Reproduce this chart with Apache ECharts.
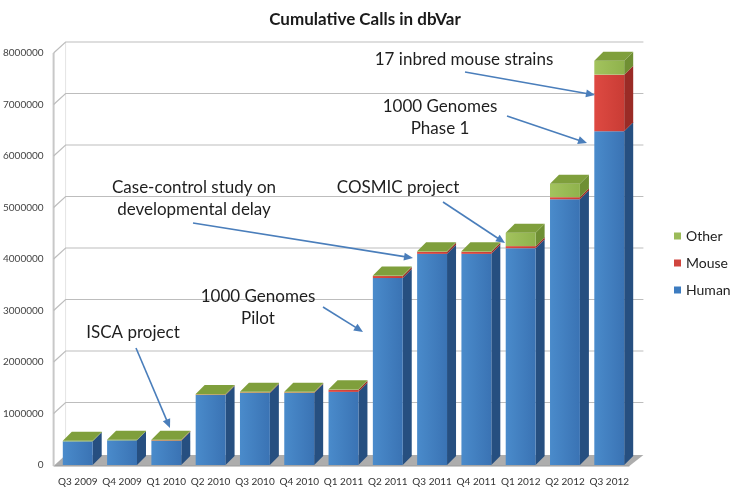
<!DOCTYPE html>
<html>
<head>
<meta charset="utf-8">
<script src="https://cdn.jsdelivr.net/npm/echarts@6/dist/echarts.min.js"></script>
<style>html,body{margin:0;padding:0;background:#fff}#chart{width:730px;height:488px}</style>
</head>
<body>
<div id="chart"></div>
<script>
var categories = ['Q3 2009','Q4 2009','Q1 2010','Q2 2010','Q3 2010','Q4 2010','Q1 2011','Q2 2011','Q3 2011','Q4 2011','Q1 2012','Q2 2012','Q3 2012'];
var human = [460000, 480000, 470000, 1360000, 1400000, 1400000, 1420000, 3630000, 4100000, 4100000, 4210000, 5160000, 6480000];
var mouse = [0, 0, 10000, 10000, 10000, 10000, 40000, 40000, 40000, 40000, 40000, 40000, 1100000];
var other = [10000, 10000, 10000, 10000, 10000, 10000, 10000, 10000, 10000, 10000, 260000, 260000, 270000];
var yTicks = [0, 1000000, 2000000, 3000000, 4000000, 5000000, 6000000, 7000000, 8000000];

var seriesDefs = [
  {name:'Human', vals:human, front:['#4a8bcb','#3a73b4'], side:'#264f80', top:'#5b95d0', legend:'#3d7cc0'},
  {name:'Mouse', vals:mouse, front:['#de4a42','#c93c35'], side:'#9a2b26', top:'#e0625b', legend:'#d0453e'},
  {name:'Other', vals:other, front:['#a3c35e','#8fb24c'], side:'#6f8f33', top:'#7f9f3c', legend:'#9bbb59'}
];

var DX = 9, DY = 9, WALL_DX = 12, WALL_DY = 11;

function topIndex(i){
  for (var s = seriesDefs.length - 1; s >= 0; s--) { if (seriesDefs[s].vals[i] > 0) return s; }
  return 0;
}

var series = [];
series.push({
  type:'custom', name:'wall', z:1, silent:true, legendHoverLink:false,
  data: yTicks.map(function(v){ return [0, v]; }),
  renderItem: function(params, api){
    var v = api.value(1);
    var p = api.coord([0, v]);
    var bw = api.size([1, 0])[0];
    var left = p[0] - bw/2 - 2;
    var right = p[0] - bw/2 + categories.length * bw + WALL_DX;
    var y = p[1];
    var children = [];
    if (v === 0) {
      children.push({type:'polygon', shape:{points:[[left, y+1],[right-WALL_DX-2, y+1],[right, y+1-WALL_DY],[left+WALL_DX, y+1-WALL_DY]]}, style:{fill:'#adadad'}});
      children.push({type:'line', shape:{x1:left, y1:y+1, x2:right-WALL_DX-2, y2:y+1}, style:{stroke:'#9a9a9a', lineWidth:1}});
      var top = api.coord([0, yTicks[yTicks.length-1]])[1];
      children.push({type:'line', shape:{x1:left, y1:y+1, x2:left, y2:top}, style:{stroke:'#c8c8c8', lineWidth:2}});
      children.push({type:'line', shape:{x1:left+WALL_DX, y1:y+1-WALL_DY, x2:left+WALL_DX, y2:top-WALL_DY}, style:{stroke:'#e4e4e4', lineWidth:1}});
    } else {
      children.push({type:'polyline', shape:{points:[[left, y],[left+WALL_DX, y-WALL_DY],[right, y-WALL_DY]]}, style:{stroke:'#bdbdbd', lineWidth:1.2, fill:null}});
    }
    return {type:'group', children:children};
  }
});

seriesDefs.forEach(function(def, sIdx){
  series.push({
    type:'custom', name:def.name, z:2,
    itemStyle:{color:def.legend},
    data: categories.map(function(c, i){
      var base = 0;
      for (var k = 0; k < sIdx; k++) base += seriesDefs[k].vals[i];
      return [i, base, def.vals[i]];
    }),
    renderItem: function(params, api){
      var i = api.value(0), base = api.value(1), val = api.value(2);
      if (!(val > 0)) return null;
      var bw = api.size([1, 0])[0];
      var w = bw * 0.675;
      var pb = api.coord([i, base]);
      var pt = api.coord([i, base + val]);
      var x0 = pb[0] - w/2, x1 = pb[0] + w/2;
      var yb = pb[1], yt = pt[1];
      var children = [];
      children.push({type:'polygon', shape:{points:[[x1, yb],[x1+DX, yb-DY],[x1+DX, yt-DY],[x1, yt]]}, style:{fill:def.side}});
      children.push({type:'rect', shape:{x:x0, y:yt, width:w, height:Math.max(yb-yt, 0.6)},
        style:{fill:new echarts.graphic.LinearGradient(0,0,1,0,[{offset:0,color:def.front[0]},{offset:1,color:def.front[1]}])}});
      if (topIndex(i) === sIdx) {
        children.push({type:'polygon', shape:{points:[[x0, yt],[x1, yt],[x1+DX, yt-DY],[x0+DX, yt-DY]]}, style:{fill:def.top}});
      }
      return {type:'group', children:children};
    }
  });
});

var annotations = [
  {lines:['17 inbred mouse strains'], x:464, y:60, from:[465,72], to:[595,95]},
  {lines:['1000 Genomes','Phase 1'], x:440, y:107, from:[507,116], to:[587,143]},
  {lines:['COSMIC project'], x:398, y:188, from:[443,202], to:[505,243]},
  {lines:['Case-control study on','developmental delay'], x:194, y:188, from:[193,223], to:[413,258]},
  {lines:['1000 Genomes','Pilot'], x:258, y:297, from:[323,307], to:[363,332]},
  {lines:['ISCA project'], x:133, y:333, from:[136,348], to:[170,428]}
];

var graphics = [];
annotations.forEach(function(a){
  a.lines.forEach(function(t, k){
    graphics.push({type:'text', x:a.x, y:a.y + k*21.5, z:10,
      style:{text:t, align:'center', verticalAlign:'middle', fontSize:17, fontFamily:'Lato', fill:'#1e1e1e'}});
  });
  var sx=a.from[0], sy=a.from[1], tx=a.to[0], ty=a.to[1];
  var dx=tx-sx, dy=ty-sy, len=Math.sqrt(dx*dx+dy*dy);
  var ux=dx/len, uy=dy/len, nx=-uy, ny=ux, L=9, W=4;
  graphics.push({type:'line', z:10, shape:{x1:sx, y1:sy, x2:tx-ux*L*0.8, y2:ty-uy*L*0.8}, style:{stroke:'#4a7ebb', lineWidth:1.6}});
  graphics.push({type:'polygon', z:10, shape:{points:[[tx,ty],[tx-ux*L+nx*W, ty-uy*L+ny*W],[tx-ux*L-nx*W, ty-uy*L-ny*W]]}, style:{fill:'#4a7ebb'}});
});

var chart = echarts.init(document.getElementById('chart'), null, {renderer:'canvas'});
chart.setOption({
  animation:false,
  backgroundColor:'#ffffff',
  title:{text:'Cumulative Calls in dbVar', left:'center', top:6,
    textStyle:{fontSize:17, fontWeight:'bold', fontFamily:'Lato', color:'#1a1a1a'}},
  legend:{data:['Other','Mouse','Human'], orient:'vertical', left:669, top:224,
    icon:'rect', itemWidth:7, itemHeight:7, itemGap:13,
    textStyle:{fontSize:14, fontFamily:'Lato', color:'#222', lineHeight:14}},
  grid:{left:55, right:98.6, top:53, bottom:23, containLabel:false},
  xAxis:{type:'category', data:categories, boundaryGap:true,
    axisLine:{show:false}, axisTick:{show:false},
    axisLabel:{fontSize:10, fontFamily:'Lato', color:'#333', margin:12, interval:0}},
  yAxis:{type:'value', min:0, max:8000000, interval:1000000,
    axisLine:{show:false}, axisTick:{show:false}, splitLine:{show:false},
    axisLabel:{fontSize:10, fontFamily:'Lato', color:'#444', margin:12,
      formatter:function(v){ return String(v); }}},
  series:series,
  graphic:graphics
});
</script>
</body>
</html>
